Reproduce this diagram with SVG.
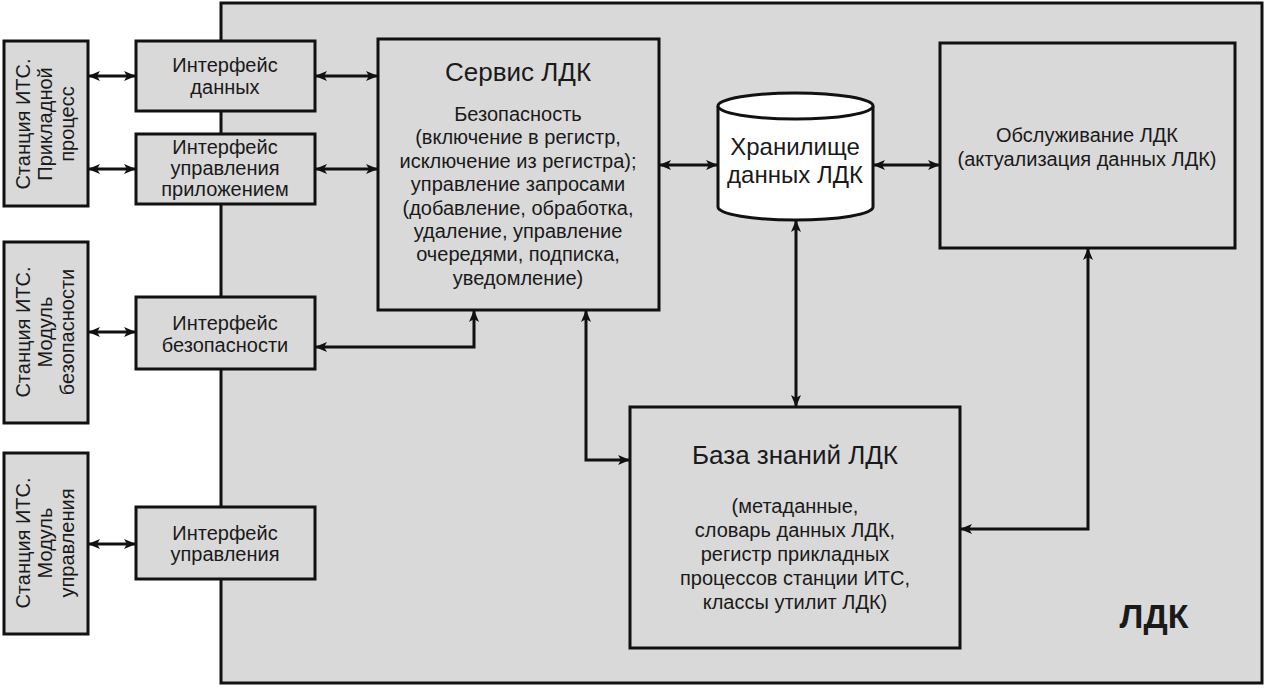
<svg xmlns="http://www.w3.org/2000/svg" width="1266" height="689" viewBox="0 0 1266 689">
<style>
.box{fill:#d9d9d9;stroke:#111;stroke-width:3}
.cyl{fill:#fff;stroke:#111;stroke-width:3}
.t{font-family:"Liberation Sans",Arial,sans-serif;font-size:20px;fill:#1a1a1a;text-anchor:middle}
.h{font-size:26px}
.c{stroke:#111;stroke-width:3;fill:none;marker-start:url(#ah);marker-end:url(#ah)}
</style>
<defs>
<marker id="ah" viewBox="0 0 12 10" refX="11" refY="5" markerWidth="12" markerHeight="10" markerUnits="userSpaceOnUse" orient="auto-start-reverse">
<path d="M0,0 L12,5 L0,10 L3,5 z" fill="#111"/>
</marker>
</defs>
<rect width="1266" height="689" fill="#fff"/>
<g id="ldk">
<rect class="box" x="221" y="3" width="1041" height="680"/>
<text class="t" x="1154" y="628" style="font-size:34px;font-weight:bold">ЛДК</text>
</g>
<g id="connectors">
<path class="c" d="M89,76 H135"/>
<path class="c" d="M89,169 H135"/>
<path class="c" d="M89,332 H135"/>
<path class="c" d="M89,544 H135"/>
<path class="c" d="M316,76 H377"/>
<path class="c" d="M316,169 H377"/>
<path class="c" d="M316,347 H474 V311"/>
<path class="c" d="M586,311 V460 H629"/>
<path class="c" d="M660,165 H717"/>
<path class="c" d="M874,165 H939"/>
<path class="c" d="M796,221 V406"/>
<path class="c" d="M961,529 H1088 V249"/>
</g>
<g id="st1">
<rect class="box" x="4" y="41" width="84" height="165"/>
<text class="t" transform="translate(0,124) rotate(-90)"><tspan x="0" y="30">Станция ИТС.</tspan><tspan x="0" y="52">Прикладной</tspan><tspan x="0" y="74">процесс</tspan></text>
</g>
<g id="st2">
<rect class="box" x="4" y="242" width="84" height="181"/>
<text class="t" transform="translate(0,332) rotate(-90)"><tspan x="0" y="30">Станция ИТС.</tspan><tspan x="0" y="52">Модуль</tspan><tspan x="0" y="74">безопасности</tspan></text>
</g>
<g id="st3">
<rect class="box" x="4" y="453" width="84" height="181"/>
<text class="t" transform="translate(0,543) rotate(-90)"><tspan x="0" y="30">Станция ИТС.</tspan><tspan x="0" y="52">Модуль</tspan><tspan x="0" y="74">управления</tspan></text>
</g>
<g id="if1">
<rect class="box" x="136" y="41" width="179" height="70"/>
<text class="t"><tspan x="225" y="72">Интерфейс</tspan><tspan x="225" y="94">данных</tspan></text>
</g>
<g id="if2">
<rect class="box" x="136" y="134" width="179" height="70"/>
<text class="t"><tspan x="225" y="154">Интерфейс</tspan><tspan x="225" y="175">управления</tspan><tspan x="225" y="196">приложением</tspan></text>
</g>
<g id="if3">
<rect class="box" x="136" y="297" width="179" height="72"/>
<text class="t"><tspan x="225" y="330">Интерфейс</tspan><tspan x="225" y="352">безопасности</tspan></text>
</g>
<g id="if4">
<rect class="box" x="136" y="507" width="179" height="72"/>
<text class="t"><tspan x="225" y="540">Интерфейс</tspan><tspan x="225" y="561">управления</tspan></text>
</g>
<g id="service">
<rect class="box" x="378" y="39" width="281" height="271"/>
<text class="t h" x="518" y="81">Сервис ЛДК</text>
<text class="t"><tspan x="518" y="121">Безопасность</tspan><tspan x="518" y="144">(включение в регистр,</tspan><tspan x="518" y="168">исключение из регистра);</tspan><tspan x="518" y="191">управление запросами</tspan><tspan x="518" y="215">(добавление, обработка,</tspan><tspan x="518" y="238">удаление, управление</tspan><tspan x="518" y="261">очередями, подписка,</tspan><tspan x="518" y="285">уведомление)</tspan></text>
</g>
<g id="storage">
<path class="cyl" d="M718,106 A77.5,13 0 0 1 873,106 V207 A77.5,13 0 0 1 718,207 Z"/>
<path class="cyl" d="M718,106 A77.5,13 0 0 0 873,106" fill="none"/>
<text class="t" style="font-size:24px"><tspan x="795" y="155">Хранилище</tspan><tspan x="795" y="183">данных ЛДК</tspan></text>
</g>
<g id="maint">
<rect class="box" x="940" y="43" width="295" height="205"/>
<text class="t"><tspan x="1087" y="142">Обслуживание ЛДК</tspan><tspan x="1087" y="166">(актуализация данных ЛДК)</tspan></text>
</g>
<g id="kb">
<rect class="box" x="630" y="407" width="330" height="241"/>
<text class="t h" x="795" y="464">База знаний ЛДК</text>
<text class="t"><tspan x="795" y="513">(метаданные,</tspan><tspan x="795" y="537">словарь данных ЛДК,</tspan><tspan x="795" y="561">регистр прикладных</tspan><tspan x="795" y="585">процессов станции ИТС,</tspan><tspan x="795" y="609">классы утилит ЛДК)</tspan></text>
</g>
</svg>
